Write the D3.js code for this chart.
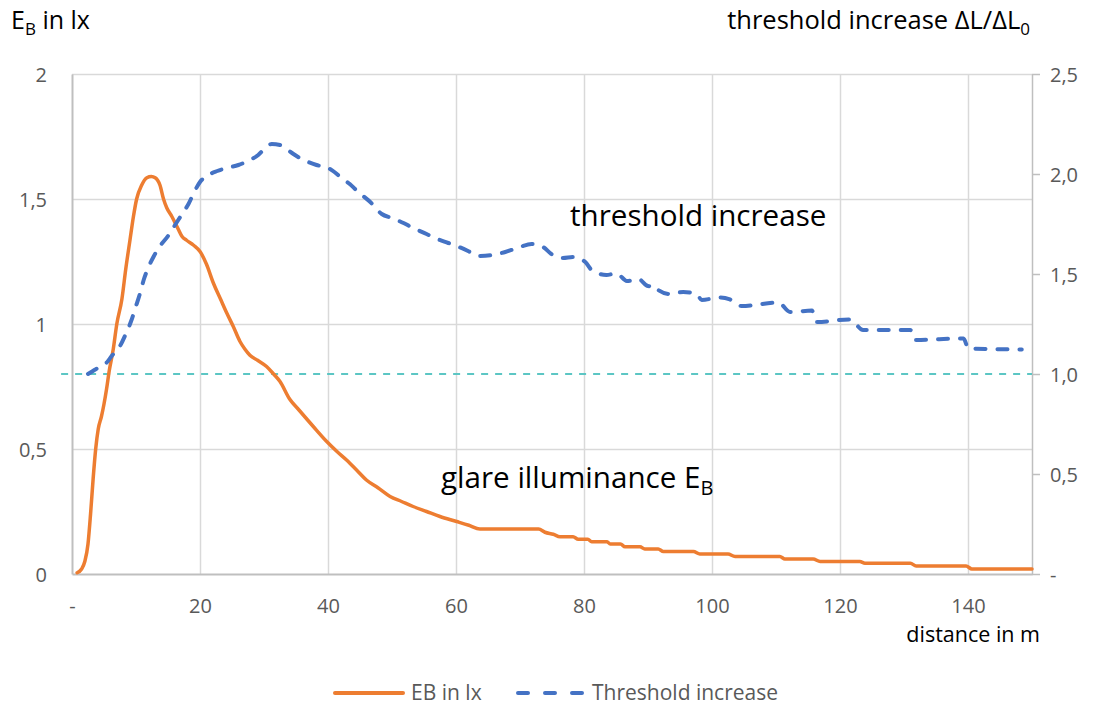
<!DOCTYPE html>
<html>
<head>
<meta charset="utf-8">
<script src="https://cdn.jsdelivr.net/npm/d3@7"></script>
<style>
  html, body { margin: 0; padding: 0; background: #fff; overflow: hidden; }
  svg { display: block; font-family: "Open Sans", sans-serif; }
</style>
</head>
<body>
<svg></svg>
<script>
const width = 1094;
const height = 705;
const margin = {top: 74, right: 62, bottom: 131, left: 72};
const innerWidth = width - margin.left - margin.right;
const innerHeight = height - margin.top - margin.bottom;

// glare illuminance E_B (left axis)
const ebDistance = [0.8, 1.5, 2.0, 2.5, 2.9, 3.3, 3.7, 4.1, 4.6, 5.0, 5.4, 5.8, 6.45, 7.0, 7.8, 8.4,
  9.06, 9.6, 10.1, 10.9, 11.7, 12.4, 13.0, 13.75, 14.3, 14.8, 15.6, 16.4, 17.2, 17.9, 19.0, 20.0,
  21.0, 22.1, 23.2, 24.2, 25.2, 26.25, 27.0, 27.8, 29.0, 30.4, 31.5, 32.5, 34.0, 35.5, 37.7, 39.8,
  41.4, 42.9, 44.5, 46.0, 47.8, 49.7, 51.5, 53.3, 55.4, 57.5, 60.1, 62.0, 63.75, 72.9, 73.9, 75.2,
  76.25, 78.3, 79.1, 80.6, 81.2, 83.6, 84.1, 85.7, 86.4, 88.75, 89.5, 91.6, 92.4, 97.1, 98.1, 102.5,
  103.6, 110.6, 111.4, 115.8, 116.9, 123.1, 123.9, 131.0, 131.9, 139.7, 140.6, 150.0];
const ebValue = [0.005, 0.02, 0.05, 0.12, 0.24, 0.38, 0.5, 0.58, 0.63, 0.68, 0.74, 0.81, 0.9, 1.0, 1.1, 1.22,
  1.336, 1.43, 1.5, 1.556, 1.585, 1.59, 1.585, 1.555, 1.5, 1.465, 1.43, 1.39, 1.35, 1.335, 1.315, 1.29,
  1.24, 1.163, 1.1, 1.043, 0.99, 0.93, 0.9, 0.875, 0.855, 0.83, 0.8, 0.77, 0.70, 0.655, 0.59, 0.53,
  0.49, 0.456, 0.415, 0.376, 0.345, 0.31, 0.29, 0.27, 0.25, 0.23, 0.21, 0.195, 0.18, 0.18, 0.167, 0.159,
  0.149, 0.149, 0.139, 0.139, 0.129, 0.129, 0.12, 0.12, 0.109, 0.109, 0.1, 0.1, 0.09, 0.09, 0.08, 0.08,
  0.07, 0.07, 0.06, 0.06, 0.05, 0.05, 0.043, 0.043, 0.032, 0.032, 0.02, 0.02];

// threshold increase (right axis)
const thDistance = [2.5, 3.5, 4.6, 5.5, 6.2, 7.5, 8.4, 9.3, 10.0, 10.6, 11.2, 11.9, 12.8, 13.75, 15.0, 16.1,
  17.2, 18.2, 19.1, 20.0, 21.3, 22.7, 24.2, 26.0, 27.8, 29.1, 30.2, 31.2, 32.5, 33.5, 34.6, 35.6,
  36.9, 38.2, 40.0, 41.0, 42.1, 43.4, 44.4, 45.3, 46.6, 48.4, 50.0, 51.8, 53.3, 55.4, 56.7, 58.8,
  60.1, 62.2, 63.5, 65.6, 67.7, 70.0, 71.8, 73.6, 74.9, 76.7, 78.3, 80.2, 81.2, 83.5, 85.1, 86.7,
  88.5, 90.0, 91.4, 91.6, 93.4, 95.5, 97.6, 98.4, 101.25, 102.8, 104.6, 110.4, 112.2, 115.6, 116.4, 121.6,
  123.6, 131.0, 131.7, 139.3, 140.05, 148.4];
const thValue = [1.0, 1.02, 1.04, 1.06, 1.09, 1.14, 1.2, 1.27, 1.34, 1.40, 1.47, 1.53, 1.59, 1.64, 1.69, 1.745,
  1.80, 1.85, 1.91, 1.96, 1.995, 2.015, 2.03, 2.045, 2.07, 2.095, 2.13, 2.15, 2.145, 2.125, 2.10, 2.08,
  2.06, 2.045, 2.03, 2.01, 1.98, 1.95, 1.92, 1.895, 1.86, 1.80, 1.78, 1.755, 1.73, 1.70, 1.68, 1.655,
  1.64, 1.61, 1.59, 1.595, 1.61, 1.635, 1.65, 1.635, 1.60, 1.58, 1.585, 1.56, 1.52, 1.495, 1.503, 1.465,
  1.475, 1.44, 1.437, 1.42, 1.40, 1.41, 1.40, 1.37, 1.383, 1.373, 1.34, 1.357, 1.31, 1.317, 1.26, 1.273,
  1.22, 1.22, 1.17, 1.178, 1.128, 1.123];

// reference level 1.0 of the threshold increase
const refDistance = [-1.7, 150];
const refValue = [1.0, 1.0];

const xTicks = [0, 20, 40, 60, 80, 100, 120, 140];
const leftTicks = [0, 0.5, 1, 1.5, 2];
const rightTicks = [0, 0.5, 1, 1.5, 2, 2.5];

const svg = d3.select('svg')
  .attr('width', width)
  .attr('height', height);

const xScale = d3.scaleLinear().domain([0, 150]).range([0, innerWidth]);
const yLeft = d3.scaleLinear().domain([0, 2]).range([innerHeight, 0]);
const yRight = d3.scaleLinear().domain([0, 2.5]).range([innerHeight, 0]);

const g = svg.append('g')
  .attr('transform', `translate(${margin.left}, ${margin.top})`);

// d3 axes set their own font and em offsets; use plain pixel positions instead
const plainAxis = (s, y) => {
  s.attr('font-family', null).attr('font-size', null);
  s.selectAll('text')
    .attr('fill', '#595959')
    .style('font-size', '20px')
    .attr('dy', null)
    .attr('y', y);
};

// grid (lines only)
const gridOnly = s => {
  s.select('.domain').remove();
  s.selectAll('text').remove();
  s.selectAll('line').attr('stroke', '#d9d9d9').attr('stroke-width', 1.5);
};
g.append('g')
  .call(d3.axisLeft(yLeft).tickValues(leftTicks.slice(1)).tickSize(-innerWidth))
  .call(gridOnly);
g.append('g')
  .attr('transform', `translate(0, ${innerHeight})`)
  .call(d3.axisBottom(xScale).tickValues(xTicks.slice(1)).tickSize(-innerHeight))
  .call(gridOnly);

const decimal = d => String(d).replace('.', ',');

// left axis
g.append('g')
  .call(d3.axisLeft(yLeft).tickValues(leftTicks).tickSize(0).tickPadding(25).tickFormat(decimal))
  .call(plainAxis, 7)
  .call(s => s.select('.domain').attr('stroke', '#bfbfbf').attr('stroke-width', 2));

// right axis
g.append('g')
  .attr('transform', `translate(${innerWidth}, 0)`)
  .call(d3.axisRight(yRight).tickValues(rightTicks).tickSize(8).tickPadding(10).tickSizeOuter(0)
    .tickFormat(d => d === 0 ? '-' : d.toFixed(1).replace('.', ',')))
  .call(plainAxis, 7)
  .call(s => s.select('.domain').attr('stroke', '#bfbfbf').attr('stroke-width', 1.5))
  .call(s => s.selectAll('line').attr('stroke', '#bfbfbf').attr('stroke-width', 1.5));

// bottom axis
g.append('g')
  .attr('transform', `translate(0, ${innerHeight})`)
  .call(d3.axisBottom(xScale).tickValues(xTicks).tickSize(0).tickSizeOuter(0)
    .tickFormat(d => d === 0 ? '-' : d))
  .call(plainAxis, 39)
  .call(s => s.select('.domain').attr('stroke', '#bfbfbf').attr('stroke-width', 2));

// reference line
g.append('path')
  .datum(d3.zip(refDistance, refValue))
  .attr('fill', 'none')
  .attr('stroke', '#5cc6c4')
  .attr('stroke-width', 2)
  .attr('stroke-dasharray', '7,7')
  .attr('d', d3.line().x(d => xScale(d[0])).y(d => yRight(d[1])));

// E_B line
g.append('path')
  .datum(d3.zip(ebDistance, ebValue))
  .attr('fill', 'none')
  .attr('stroke', '#ed7d31')
  .attr('stroke-width', 3.5)
  .attr('stroke-linejoin', 'round')
  .attr('stroke-linecap', 'round')
  .attr('d', d3.line().curve(d3.curveMonotoneX).x(d => xScale(d[0])).y(d => yLeft(d[1])));

// threshold increase line
g.append('path')
  .datum(d3.zip(thDistance, thValue))
  .attr('fill', 'none')
  .attr('stroke', '#4472c4')
  .attr('stroke-width', 4)
  .attr('stroke-linejoin', 'round')
  .attr('stroke-linecap', 'round')
  .attr('stroke-dasharray', '10,12')
  .attr('d', d3.line().curve(d3.curveMonotoneX).x(d => xScale(d[0])).y(d => yRight(d[1])));

// axis titles
const leftTitle = svg.append('text')
  .attr('x', 11).attr('y', 29)
  .style('font-size', '25px').attr('fill', '#000');
leftTitle.append('tspan').text('E');
leftTitle.append('tspan').text('B').attr('dy', 6).style('font-size', '17px');
leftTitle.append('tspan').text(' in lx').attr('dy', -6);

const rightTitle = svg.append('text')
  .attr('x', 1030).attr('y', 29)
  .attr('text-anchor', 'end')
  .style('font-size', '25.5px').attr('fill', '#000');
rightTitle.append('tspan').text('threshold increase \u0394L/\u0394L');
rightTitle.append('tspan').text('0').attr('dy', 6).style('font-size', '17px');

svg.append('text')
  .attr('x', 1040).attr('y', 642)
  .attr('text-anchor', 'end')
  .style('font-size', '21.5px').attr('fill', '#000')
  .text('distance in m');

// series labels
svg.append('text')
  .attr('x', 570).attr('y', 226)
  .style('font-size', '29.6px').attr('fill', '#000')
  .text('threshold increase');

const glare = svg.append('text')
  .attr('x', 441).attr('y', 488)
  .style('font-size', '29.6px').attr('fill', '#000');
glare.append('tspan').text('glare illuminance E');
glare.append('tspan').text('B').attr('dy', 7).style('font-size', '20px');

// legend
const legend = svg.append('g');
legend.append('line')
  .attr('x1', 335).attr('x2', 403).attr('y1', 693).attr('y2', 693)
  .attr('stroke', '#ed7d31').attr('stroke-width', 4).attr('stroke-linecap', 'round');
legend.append('text')
  .attr('x', 411).attr('y', 700)
  .style('font-size', '21px').attr('fill', '#595959')
  .text('EB in lx');
legend.append('line')
  .attr('x1', 518).attr('x2', 584).attr('y1', 693).attr('y2', 693)
  .attr('stroke', '#4472c4').attr('stroke-width', 4).attr('stroke-linecap', 'round')
  .attr('stroke-dasharray', '10,17');
legend.append('text')
  .attr('x', 592).attr('y', 700)
  .style('font-size', '21px').attr('fill', '#595959')
  .text('Threshold increase');
</script>
</body>
</html>
